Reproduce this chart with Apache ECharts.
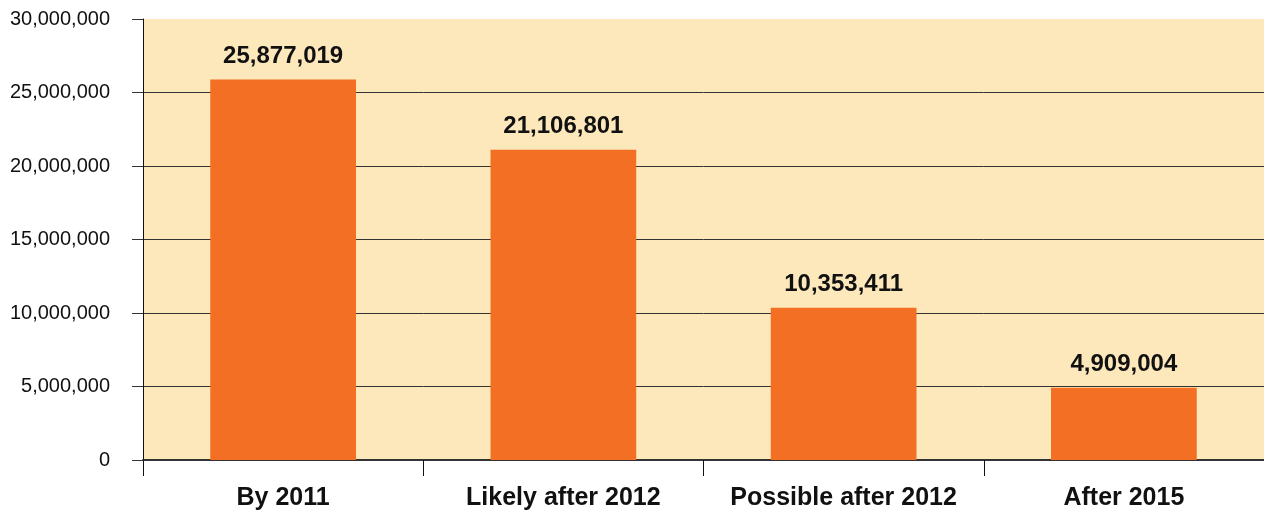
<!DOCTYPE html>
<html>
<head>
<meta charset="utf-8">
<script src="https://cdn.jsdelivr.net/npm/echarts@6/dist/echarts.min.js"></script>
<style>
  html, body { margin: 0; padding: 0; background: #fff; }
  #main { width: 1264px; height: 513px; }
</style>
</head>
<body>
<div id="main"></div>
<script>
var categories = ["By 2011", "Likely after 2012", "Possible after 2012", "After 2015"];
var values = [25877019, 21106801, 10353411, 4909004];

var chart = echarts.init(document.getElementById("main"));
var font = "'Liberation Sans', Arial, sans-serif";

var option = {
  animation: false,
  grid: {
    left: 143,
    top: 19,
    width: 1124,
    height: 441,
    show: true,
    backgroundColor: "#fde8bc",
    borderWidth: 0
  },
  xAxis: {
    type: "category",
    data: categories,
    axisLine: { show: true, lineStyle: { color: "#333", width: 2 } },
    axisTick: { show: true, interval: 0, length: 16, alignWithLabel: false, lineStyle: { color: "#111", width: 1 } },
    axisLabel: {
      interval: 0,
      hideOverlap: false,
      margin: 26,
      fontFamily: font,
      fontSize: 25,
      fontWeight: "bold",
      color: "#111"
    }
  },
  yAxis: {
    type: "value",
    min: 0,
    max: 30000000,
    interval: 5000000,
    axisLine: { show: true, lineStyle: { color: "#111", width: 1 } },
    axisTick: { show: true, length: 11, lineStyle: { color: "#333", width: 1 } },
    splitLine: {
      show: true,
      lineStyle: { color: ["#333", "#333", "#333", "#333", "#333", "#333", "transparent"], width: 1 }
    },
    axisLabel: {
      margin: 33,
      fontFamily: font,
      fontSize: 20,
      color: "#111",
      formatter: function (v) { return v.toLocaleString("en-US"); }
    }
  },
  series: [
    {
      type: "bar",
      data: values,
      barWidth: "52%",
      itemStyle: { color: "#f36f23" },
      label: {
        show: true,
        position: "top",
        distance: 11,
        fontFamily: font,
        fontSize: 24,
        fontWeight: "bold",
        color: "#111",
        formatter: function (p) { return p.value.toLocaleString("en-US"); }
      }
    }
  ]
};

chart.setOption(option);
</script>
</body>
</html>
